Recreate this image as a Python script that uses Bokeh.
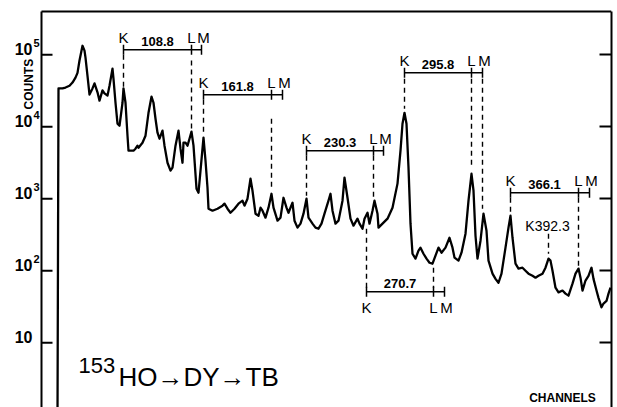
import numpy as np
from bokeh.plotting import figure
from bokeh.models import Range1d, LogAxis, FixedTicker
from bokeh.embed import file_html
from bokeh.resources import INLINE
from bokeh.core.properties import value

# ---------------- data ----------------
channel = [16, 17, 21, 24, 28, 31, 34, 36, 38, 41, 43, 44, 46, 48, 51, 53, 56, 58, 61, 63,
           66, 68, 71, 72, 74, 76, 78, 81, 82, 84, 86, 87, 92, 94, 96, 97, 101, 104, 107, 110,
           112, 114, 116, 118, 121, 123, 126, 129, 131, 134, 137, 139, 141, 142, 144, 146, 148, 150, 152, 155,
           157, 159, 162, 164, 166, 167, 171, 176, 181, 183, 186, 189, 193, 197, 201, 203, 206, 209, 211, 214,
           217, 219, 221, 224, 227, 230, 232, 236, 239, 242, 245, 247, 251, 253, 256, 259, 262, 265, 267, 271,
           274, 277, 280, 283, 287, 289, 291, 294, 297, 301, 303, 306, 309, 312, 316, 318, 321, 323, 326, 328,
           331, 333, 336, 337, 341, 346, 351, 356, 359, 361, 363, 365, 367, 369, 371, 374, 377, 379, 382, 385,
           388, 391, 394, 397, 400, 404, 408, 411, 413, 417, 420, 424, 427, 430, 432, 434, 436, 439, 442, 445,
           447, 451, 454, 457, 460, 464, 467, 469, 471, 474, 477, 481, 484, 487, 491, 494, 497, 501, 504, 507,
           509, 511, 514, 517, 521, 524, 527, 531, 534, 537, 539, 541, 544, 547, 550, 552, 555, 557, 560, 562,
           565, 567, 569]
counts = [1, 34000, 34000, 35000, 37000, 41000, 48000, 56000, 83000, 133000, 114000, 91000, 51000, 28000, 34000, 40000, 30000, 23000, 32000, 29000,
          27000, 37000, 64000, 46000, 21500, 11000, 10300, 21500, 34000, 21500, 7500, 4640, 4640, 4950, 5450, 5110, 6000, 7500, 15600, 26100,
          21500, 12900, 8250, 6810, 8800, 5450, 3160, 2450, 2700, 5450, 8800, 4950, 3160, 6000, 6000, 5450, 6810, 8530, 5450, 1380,
          1210, 2450, 7030, 3370, 1420, 726, 681, 726, 800, 853, 726, 639, 726, 853, 938, 800, 1000, 1900, 1290, 619,
          580, 750, 681, 545, 750, 1170, 750, 495, 545, 1030, 750, 639, 880, 495, 396, 450, 619, 1000, 545, 450,
          396, 383, 450, 619, 938, 1170, 681, 450, 495, 938, 1960, 1030, 528, 422, 528, 450, 383, 528, 639, 450,
          681, 938, 619, 396, 450, 528, 750, 1620, 4640, 11000, 15600, 11000, 2700, 450, 172, 147, 190, 209, 172, 147,
          129, 125, 162, 209, 178, 209, 287, 209, 152, 138, 178, 327, 938, 2220, 1290, 306, 147, 261, 619, 359,
          138, 91, 77, 68, 91, 209, 396, 580, 287, 125, 107, 110, 100, 91, 85, 80, 85, 91, 110, 147,
          138, 100, 58, 50, 53, 48, 45, 66, 91, 107, 80, 53, 73, 85, 110, 77, 53, 42, 31, 35,
          38, 48, 58]
assert len(channel) == len(counts), (len(channel), len(counts))

channel_min, channel_max = 0, 570
counts_min, counts_max = 10 ** 0.1, 10 ** 5.6

y_ticks = [10, 100, 1000, 10000, 100000]
y_tick_base = ["10", "10", "10", "10", "10"]
y_tick_exponent = ["", "2", "3", "4", "5"]

# K-L-M conversion-line groups
energies = ["108.8", "161.8", "230.3", "295.8", "366.1", "270.7"]
k_channel = [82, 162, 265, 363, 469, 325]
l_channel = [150, 230, 332, 430, 537, 392]
m_channel = [160, 241, 342, 441, 548, 403]
bracket_counts = [117000, 27800, 4640, 56200, 1210, 51]
letters_below = [False, False, False, False, False, True]

# dashed marker lines (channel, top counts, bottom counts)
dash_channel = [82, 150, 162, 230, 265, 332, 363, 430, 441, 469, 537, 325, 392, 507]
dash_top = [100000, 83000, 23700, 12900, 3960, 3960, 46400, 46400, 46400, 1030, 1030, 383, 110, 327]
dash_bottom = [36000, 9400, 7700, 1380, 1100, 1000, 17800, 2610, 726, 639, 117, 58, 58, 172]

extra_label = "K392.3"
extra_channel = 506
extra_counts = 422

title_mass = "153"
title_chain = "HO\u2192DY\u2192TB"
x_label = "CHANNELS"
y_label = "COUNTS"
y_label_counts = 39000

# ---------------- figure ----------------
# the frame covers the whole left margin so that the hand-made left axis (ticks,
# labels, "COUNTS") can be drawn with glyphs through the plot's own scales
left_margin_px = 41
top_margin_px = 11
px_per_decade = 72
x_lo = channel_min - left_margin_px * (channel_max - channel_min) / 570
y_hi = 10 ** (np.log10(counts_max) + top_margin_px / px_per_decade)

p = figure(width=617, height=407, output_backend="svg", toolbar_location=None,
           x_range=Range1d(x_lo, channel_max), y_range=Range1d(counts_min, y_hi),
           y_axis_type="log", x_axis_location=None, y_axis_location=None,
           min_border_left=0, min_border_right=6, min_border_top=0, min_border_bottom=0,
           background_fill_color="white", border_fill_color="white")
p.outline_line_color = None
p.xgrid.visible = False
p.ygrid.visible = False

# right axis: real axis, ticks inside, no labels
rax = LogAxis(ticker=FixedTicker(ticks=y_ticks), major_tick_in=12, major_tick_out=0,
              minor_tick_line_color=None, axis_line_width=2, major_tick_line_width=2,
              major_label_standoff=0, major_label_text_font_size="0px",
              major_label_overrides={t: "" for t in y_ticks},
              bounds=(counts_min, counts_max))
p.add_layout(rax, "right")

# left axis line, top border, inward ticks
p.segment(x0=[channel_min], y0=[counts_min], x1=[channel_min], y1=[counts_max],
          line_color="black", line_width=2)
p.segment(x0=[channel_min], y0=[counts_max], x1=[channel_max], y1=[counts_max],
          line_color="black", line_width=2)
p.ray(x=[channel_min] * len(y_ticks), y=y_ticks, length=11, length_units="screen",
      angle=0, line_color="black", line_width=2)

# left tick labels: "10" with superscript exponent
p.text(x=[channel_min] * len(y_ticks), y=y_ticks, text=y_tick_base, x_offset=-9, y_offset=-6,
       text_align="right", text_baseline="middle", text_font=value("Liberation Sans"),
       text_font_size="16px", text_font_style="bold", text_color="black")
p.text(x=[channel_min] * len(y_ticks), y=y_ticks, text=y_tick_exponent, x_offset=-2,
       y_offset=-12, text_align="right", text_baseline="middle",
       text_font=value("Liberation Sans"), text_font_size="11px", text_font_style="bold",
       text_color="black")

# y-axis title
p.text(x=[channel_min], y=[y_label_counts], text=[y_label], x_offset=-13, angle=np.pi / 2,
       text_align="center", text_baseline="middle", text_font=value("Liberation Sans"),
       text_font_size="12px", text_font_style="bold", text_color="black")

# spectrum
p.line(channel, counts, line_color="black", line_width=2.3, line_join="round")

# dashed markers
p.segment(x0=dash_channel, y0=dash_top, x1=dash_channel, y1=dash_bottom,
          line_color="black", line_width=1.4, line_dash="5 4")

# brackets
p.segment(x0=k_channel, y0=bracket_counts, x1=m_channel, y1=bracket_counts,
          line_color="black", line_width=1.5)
tick_x = k_channel + l_channel + m_channel
tick_y = bracket_counts * 3
p.scatter(tick_x, tick_y, marker="dash", angle=np.pi / 2, size=10,
          line_color="black", line_width=1.5)

# labels on brackets
mid_x = [(k + l) / 2 for k, l in zip(k_channel, l_channel)]
p.text(x=mid_x, y=bracket_counts, text=energies, text_align="center", text_baseline="bottom",
       y_offset=-4, text_font=value("Liberation Sans"), text_font_size="13px",
       text_font_style="bold", text_color="black")

up_x, up_y, up_t, up_dx = [], [], [], []
dn_x, dn_y, dn_t, dn_dx = [], [], [], []
for k, l, m, b, below in zip(k_channel, l_channel, m_channel, bracket_counts, letters_below):
    for xx, tt, dx in ((k, "K", 0), (l, "L", 0), (m, "M", 2)):
        if below:
            dn_x.append(xx); dn_y.append(b); dn_t.append(tt); dn_dx.append(dx)
        else:
            up_x.append(xx); up_y.append(b); up_t.append(tt); up_dx.append(dx)
p.text(x=up_x, y=up_y, text=up_t, x_offset=up_dx, y_offset=-4, text_align="center",
       text_baseline="bottom", text_font=value("Liberation Sans"), text_font_size="15px",
       text_color="black")
p.text(x=dn_x, y=dn_y, text=dn_t, x_offset=dn_dx, y_offset=7, text_align="center",
       text_baseline="top", text_font=value("Liberation Sans"), text_font_size="15px",
       text_color="black")

p.text(x=[extra_channel], y=[extra_counts], text=[extra_label], text_align="center",
       text_baseline="middle", text_font=value("Liberation Sans"), text_font_size="14px",
       text_color="black")

# title inside the plot
p.text(x=[37], y=[4.8], text=[title_mass], text_align="left", text_baseline="middle",
       text_font=value("Liberation Sans"), text_font_size="22px", text_color="black")
p.text(x=[77], y=[3.3], text=[title_chain], text_align="left", text_baseline="middle",
       text_font=value("Liberation Sans"), text_font_size="26px", text_color="black")

p.text(x=[521], y=[1.72], text=[x_label], text_align="center", text_baseline="middle",
       text_font=value("Liberation Sans"), text_font_size="12px", text_font_style="bold",
       text_color="black")

open("out.html", "w").write(file_html(p, INLINE))
